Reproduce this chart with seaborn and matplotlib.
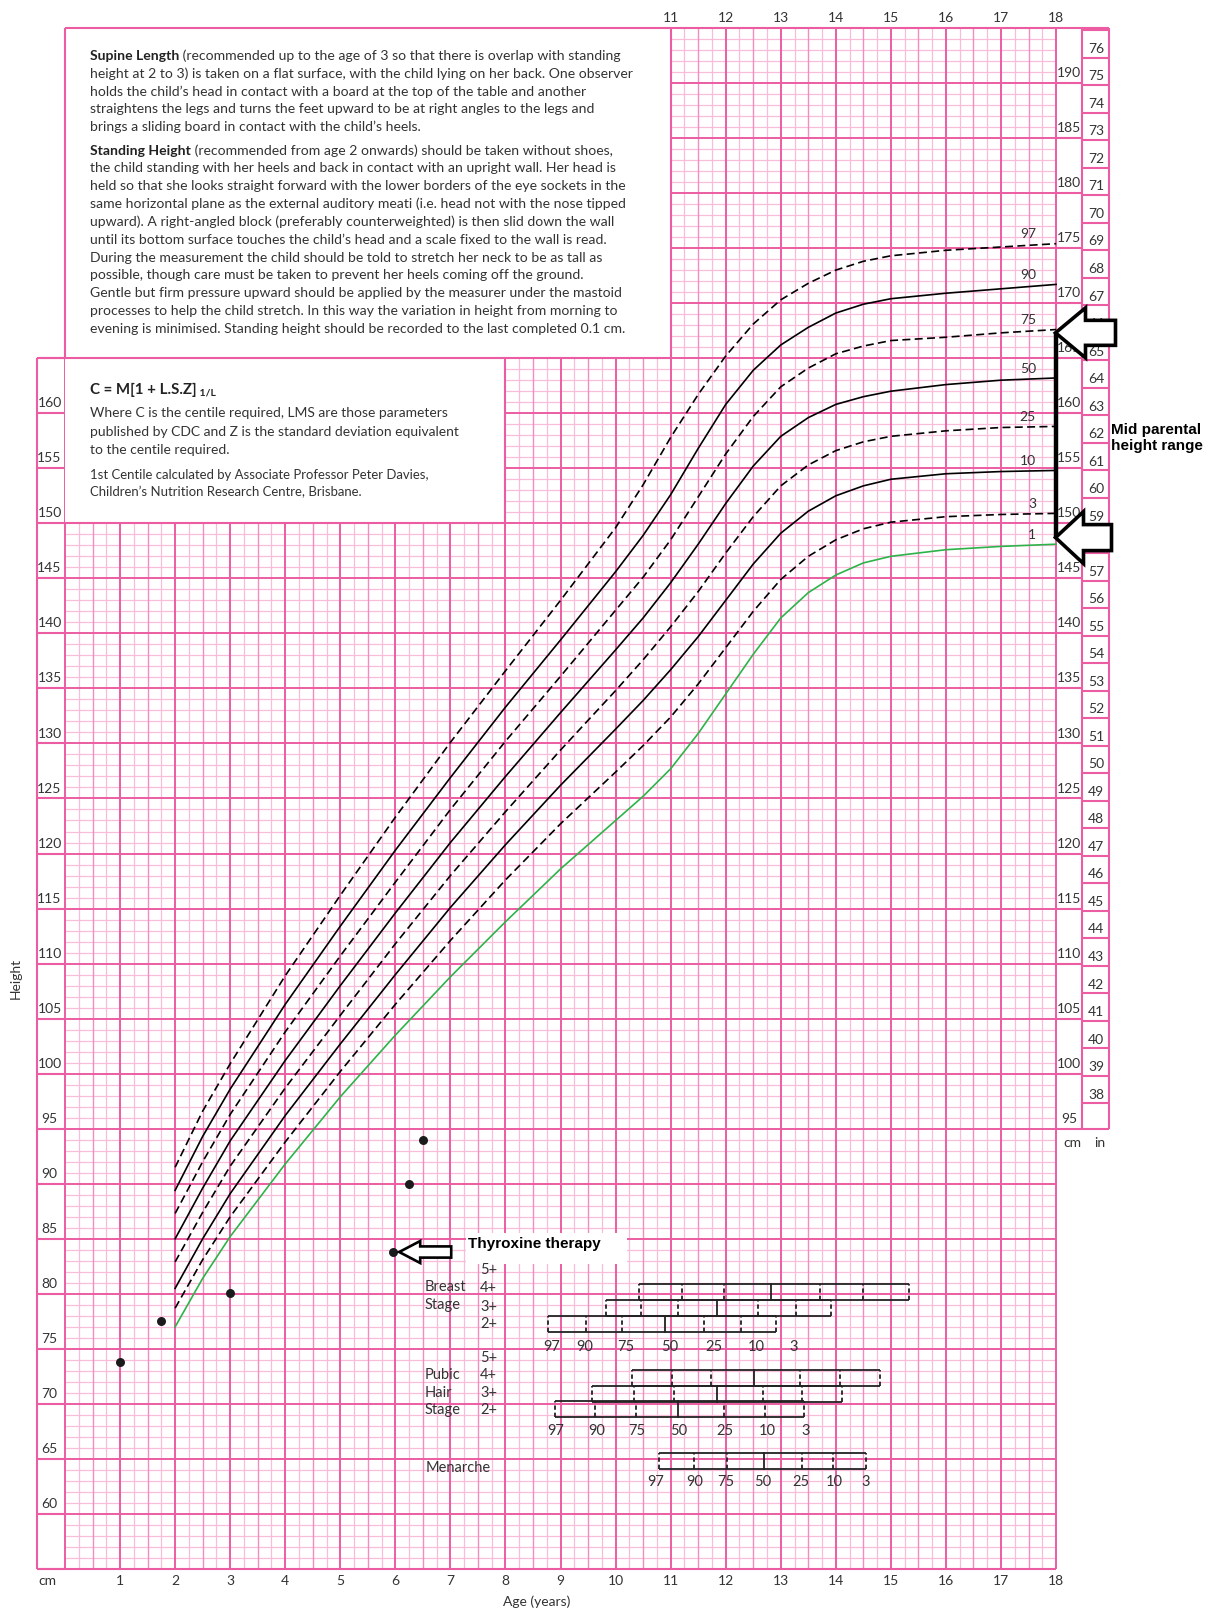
import numpy as np
import pandas as pd
import seaborn as sns
import matplotlib.pyplot as plt
from matplotlib.patches import Polygon, Rectangle

# chart paper scale: pixels per year / per cm, and where age 0 and 60 cm sit
PX_YR = 55.06
PX_CM = 11.008
X0_PX, Y60_PX = 65, 1514


def px_x(px):
    return (px - X0_PX) / PX_YR


def px_y(py):
    return 60 + (Y60_PX - py) / PX_CM


# centile curves (girls stature)
ages = [2, 2.5, 3, 4, 5, 6, 7, 8, 9, 10, 10.5, 11, 11.5, 12, 12.5, 13, 13.5, 14, 14.5, 15, 16, 17, 18]
c97 = [91.5, 96.6, 100.9, 108.9, 116.2, 123.3, 130.1, 136.6, 143.0, 149.6, 153.5, 157.8, 161.7, 165.2, 168.1, 170.3, 171.8, 173.0, 173.8, 174.3, 174.8, 175.1, 175.4]
c90 = [89.4, 94.3, 98.6, 106.3, 113.4, 120.3, 126.9, 133.3, 139.4, 145.6, 148.9, 152.6, 156.8, 160.8, 163.9, 166.2, 167.8, 169.1, 169.9, 170.4, 170.9, 171.3, 171.7]
c75 = [87.3, 92.0, 96.3, 103.8, 110.7, 117.4, 124.0, 130.2, 136.1, 142.1, 145.1, 148.5, 152.4, 156.3, 159.7, 162.4, 164.1, 165.4, 166.1, 166.6, 166.9, 167.3, 167.6]
c50 = [85.0, 89.6, 93.9, 101.2, 108.0, 114.6, 121.0, 127.0, 132.8, 138.5, 141.4, 144.6, 148.1, 151.8, 155.2, 157.9, 159.6, 160.8, 161.5, 162.0, 162.6, 163.0, 163.2]
c25 = [82.9, 87.4, 91.6, 98.7, 105.3, 111.8, 118.0, 123.8, 129.4, 134.8, 137.6, 140.6, 143.8, 147.3, 150.6, 153.4, 155.3, 156.6, 157.4, 157.9, 158.4, 158.7, 158.8]
c10 = [80.5, 85.0, 89.1, 96.2, 102.7, 109.0, 115.1, 120.8, 126.2, 131.3, 133.9, 136.7, 139.7, 143.0, 146.3, 149.1, 151.1, 152.5, 153.4, 154.0, 154.5, 154.7, 154.8]
c3 = [78.7, 83.1, 87.0, 93.8, 100.2, 106.3, 112.1, 117.6, 122.7, 127.4, 129.8, 132.4, 135.4, 138.7, 142.0, 144.9, 147.0, 148.5, 149.5, 150.1, 150.6, 150.8, 150.9]
c1 = [77.0, 81.4, 85.2, 91.8, 97.9, 103.5, 108.8, 113.8, 118.6, 123.0, 125.2, 127.7, 130.9, 134.5, 138.1, 141.4, 143.7, 145.3, 146.4, 147.0, 147.6, 147.9, 148.1]
centiles = ['97', '90', '75', '50', '25', '10', '3', '1']

# patient measurements
pt_age = [1.0, 1.75, 3.0, 5.95, 6.25, 6.5]
pt_height = [73.8, 77.5, 80.1, 83.8, 90.0, 94.0]
thyroxine_idx = 3
mid_parental = [148.7, 167.3]

# puberty staging: ages at 97, 90, 75, 50, 25, 10, 3 percentiles
stage_pct = ['97', '90', '75', '50', '25', '10', '3']
stage_rows = ['5+', '4+', '3+', '2+']
breast_2 = [8.77, 9.46, 10.12, 10.90, 11.61, 12.27, 12.91]
breast_3 = [9.82, 10.46, 11.13, 11.85, 12.58, 13.27, 13.91]
breast_4 = [10.43, 11.21, 11.97, 12.83, 13.71, 14.50, 15.33]
pubic_2 = [8.90, 9.63, 10.37, 11.13, 11.97, 12.71, 13.42]
pubic_3 = [9.57, 10.33, 11.06, 11.85, 12.67, 13.39, 14.11]
pubic_4 = [10.30, 11.02, 11.73, 12.52, 13.35, 14.08, 14.80]
menarche = [10.78, 11.43, 12.02, 12.69, 13.38, 13.95, 14.54]

# axis labels
left_cm = list(range(60, 161, 5))
right_cm = list(range(95, 191, 5))
inch_labels = list(range(38, 77))
top_ages = list(range(11, 19))
bottom_ages = list(range(1, 19))

para1 = [
    ("Supine Length", " (recommended up to the age of 3 so that there is overlap with standing"),
    "height at 2 to 3) is taken on a flat surface, with the child lying on her back. One observer",
    "holds the child\u2019s head in contact with a board at the top of the table and another",
    "straightens the legs and turns the feet upward to be at right angles to the legs and",
    "brings a sliding board in contact with the child\u2019s heels.",
]
para2 = [
    ("Standing Height", " (recommended from age 2 onwards) should be taken without shoes,"),
    "the child standing with her heels and back in contact with an upright wall. Her head is",
    "held so that she looks straight forward with the lower borders of the eye sockets in the",
    "same horizontal plane as the external auditory meati (i.e. head not with the nose tipped",
    "upward). A right-angled block (preferably counterweighted) is then slid down the wall",
    "until its bottom surface touches the child\u2019s head and a scale fixed to the wall is read.",
    "During the measurement the child should be told to stretch her neck to be as tall as",
    "possible, though care must be taken to prevent her heels coming off the ground.",
    "Gentle but firm pressure upward should be applied by the measurer under the mastoid",
    "processes to help the child stretch. In this way the variation in height from morning to",
    "evening is minimised. Standing height should be recorded to the last completed 0.1 cm.",
]
formula_lines = [
    "Where C is the centile required, LMS are those parameters",
    "published by CDC and Z is the standard deviation equivalent",
    "to the centile required.",
]
credit_lines = [
    "1st Centile calculated by Associate Professor Peter Davies,",
    "Children\u2019s Nutrition Research Centre, Brisbane.",
]

plt.rcParams['font.family'] = ['Lato', 'DejaVu Sans']
DARK = '#EC5CA2'
MID = '#F28DBF'
LIGHT = '#F8BDD9'
TXT = '#333333'

fig = plt.figure(figsize=(12.13, 16.11), dpi=100)
ax = fig.add_axes([0, 0, 1, 1])
ax.axis('off')
renderer = fig.canvas.get_renderer()


def fit_size(text, target_px, weight='normal', base=10):
    t = ax.text(0, 0, text, fontsize=base, fontweight=weight)
    w = t.get_window_extent(renderer=renderer).width
    t.remove()
    return base * target_px / w


# ---- grid paper ----
for a in np.arange(0, 18.001, 0.25):
    if a % 1 == 0:
        col, lw, z = DARK, 1.4, 1.3
    elif a % 0.5 == 0:
        col, lw, z = MID, 1.0, 1.2
    else:
        col, lw, z = LIGHT, 0.9, 1.1
    ax.vlines(a, 55, 195, color=col, lw=lw, zorder=z)
for c in range(55, 196):
    if c % 5 == 0:
        ax.hlines(c, 0, 18, color=DARK, lw=1.4, zorder=1.3)
    else:
        ax.hlines(c, 0, 18, color=LIGHT, lw=0.9, zorder=1.1)

# white text boxes
ax.add_patch(Rectangle((0, 165), 11, 30, fc='white', ec='none', zorder=2))
ax.add_patch(Rectangle((0, 150), 8, 15, fc='white', ec='none', zorder=2))

bk = dict(color=DARK, lw=1.5, zorder=3, solid_capstyle='butt')
ax.plot([0, 0], [165, 195], **bk)
ax.plot([0, 18.96], [195, 195], **bk)
ax.plot([-0.5, 11], [165, 165], **bk)
ax.plot([11, 11], [165, 195], **bk)
ax.plot([0, 8], [150, 150], **bk)
ax.plot([8, 8], [150, 165], **bk)
ax.plot([-0.5, -0.5], [55, 165], **bk)
ax.plot([-0.5, 18], [55, 55], **bk)
ax.hlines(list(range(55, 166, 5)), -0.5, 0, color=DARK, lw=1.5, zorder=3)

# right hand cm and inch columns
cm_right, in_right = px_x(1082), px_x(1109)
ax.plot([cm_right, cm_right], [95, 195], **bk)
ax.plot([in_right, in_right], [95, 195], **bk)
ax.plot([18, in_right], [95, 95], **bk)
ax.hlines(list(range(100, 195, 5)), 18, cm_right, color=DARK, lw=1.5, zorder=3)
ax.hlines([97.3 + k * 2.5 for k in range(len(inch_labels) + 1)], cm_right, in_right,
          color=DARK, lw=1.5, zorder=3)

# ---- axis labels ----
lab = dict(fontsize=10, color=TXT, ha='center', va='center', zorder=4)
for c in left_cm:
    ax.text(px_x(49.5), c + 0.9, str(c), **lab)
for c in right_cm:
    ax.text(px_x(1069), c + 0.9, str(c), **lab)
for k, n in enumerate(inch_labels):
    ax.text(px_x(1096), 98.1 + k * 2.5, str(n), **lab)
for a in top_ages:
    ax.text(a, px_y(17.5), str(a), **lab)
for a in bottom_ages:
    ax.text(a, px_y(1581), str(a), **lab)
ax.text(px_x(47), px_y(1581), 'cm', **lab)
ax.text(px_x(536.5), px_y(1602), 'Age (years)', **lab)
ax.text(px_x(1072), px_y(1143), 'cm', **lab)
ax.text(px_x(1100), px_y(1143), 'in', **lab)
ax.text(px_x(15.5), px_y(978.5), 'Height', rotation=90, **lab)

# ---- explanatory text ----
fs_p = fit_size(para1[1], 540)
tx = px_x(90)


def write_par(lines, y0_px):
    for i, line in enumerate(lines):
        y = px_y(y0_px + i * 17.8)
        if isinstance(line, tuple):
            t = ax.text(tx, y, line[0], fontsize=fs_p, fontweight='bold', color='#222222',
                        va='center', ha='left', zorder=4)
            ax.annotate(line[1], xy=(1, 0), xycoords=t, va='bottom', ha='left',
                        fontsize=fs_p, color=TXT, zorder=4)
        else:
            ax.text(tx, y, line, fontsize=fs_p, color=TXT, va='center', ha='left', zorder=4)


write_par(para1, 56)
write_par(para2, 150.7)

fs_f = fit_size(formula_lines[1], 369)
t = ax.text(tx, px_y(390), 'C = M[1 + L.S.Z]', fontsize=fs_f * 1.08, fontweight='bold',
            color='#222222', va='center', ha='left', zorder=4)
ax.annotate(' 1/L', xy=(1, 0), xycoords=t, va='bottom', ha='left', fontsize=fs_f * 0.75,
            fontweight='bold', color='#222222', zorder=4)
for i, line in enumerate(formula_lines):
    ax.text(tx, px_y(413.3 + i * 18.3), line, fontsize=fs_f, color=TXT, va='center', zorder=4)
fs_c = fit_size(credit_lines[0], 338)
for i, line in enumerate(credit_lines):
    ax.text(tx, px_y(475 + i * 17.5), line, fontsize=fs_c, color=TXT, va='center', zorder=4)

# ---- centile curves ----
curves = pd.DataFrame({
    'age': ages * len(centiles),
    'height': c97 + c90 + c75 + c50 + c25 + c10 + c3 + c1,
    'centile': np.repeat(centiles, len(ages)),
})
palette = {c: 'black' for c in centiles}
palette['1'] = '#2DB34A'
dash = (4.8, 2.6)
dashes = {'97': dash, '90': '', '75': dash, '50': '', '25': dash, '10': '', '3': dash, '1': ''}
sns.lineplot(data=curves, x='age', y='height', hue='centile', style='centile',
             hue_order=centiles, style_order=centiles, palette=palette, dashes=dashes,
             estimator=None, linewidth=1.2, legend=False, ax=ax, zorder=5)

ends = curves[curves['age'] == 18]
for _, r in ends.iterrows():
    ax.text(px_x(1036), r['height'] + 0.85, r['centile'], fontsize=10, color=TXT,
            ha='right', va='center', zorder=4)

# ---- patient points ----
sns.scatterplot(x=pt_age, y=pt_height, color='#1b1b1b', s=42, linewidth=0,
                legend=False, ax=ax, zorder=6)


def block_arrow(tip_x, tip_y, head_len, head_half, shaft_half, total, lw):
    pts = [(0, 0), (head_len, head_half), (head_len, shaft_half), (total, shaft_half),
           (total, -shaft_half), (head_len, -shaft_half), (head_len, -head_half)]
    xy = [(tip_x + dx / PX_YR, tip_y + dy / PX_CM) for dx, dy in pts]
    ax.add_patch(Polygon(xy, closed=True, fc='white', ec='black', lw=lw,
                         joinstyle='miter', zorder=8))


# mid parental height range
ax.plot([px_x(1055.5)] * 2, mid_parental, color='black', lw=3.2, zorder=7,
        solid_capstyle='butt')
block_arrow(px_x(1055.5), mid_parental[1], 30, 25, 12.5, 60, 2.6)
block_arrow(px_x(1055.5), mid_parental[0], 28, 26, 13, 56, 2.6)
ax.text(px_x(1111), px_y(438), 'Mid parental\nheight range', fontsize=11,
        fontweight='bold', family='Liberation Sans', color='black', ha='left',
        va='center', linespacing=1.15, zorder=8)

# thyroxine therapy
ax.add_patch(Rectangle((px_x(466), px_y(1264)), (627 - 466) / PX_YR, 31 / PX_CM,
                       fc='white', ec='none', zorder=3.5))
ax.text(px_x(468), px_y(1244), 'Thyroxine therapy', fontsize=11, fontweight='bold',
        family='Liberation Sans', color='black', ha='left', va='center', zorder=8)
block_arrow(pt_age[thyroxine_idx] + 6.6 / PX_YR, pt_height[thyroxine_idx], 21, 11, 5.6, 52, 1.9)


# ---- puberty staging bars ----
def stage_bar(row, bottom, height):
    ax.hlines([bottom, bottom + height], row[0], row[-1], color='#222222', lw=1.3, zorder=5)
    for p, a in zip(stage_pct, row):
        ls = '-' if p == '50' else (0, (2.4, 1.6))
        ax.plot([a, a], [bottom, bottom + height], color='#222222', lw=1.3, ls=ls, zorder=5)


for row, b in zip([breast_2, breast_3, breast_4], [76.56, 77.99, 79.44]):
    stage_bar(row, b, 1.43)
for row, b in zip([pubic_2, pubic_3, pubic_4], [68.78, 70.21, 71.66]):
    stage_bar(row, b, 1.45)
stage_bar(menarche, 64.06, 1.44)

sl = dict(fontsize=10.5, color=TXT, ha='left', va='center', zorder=4)
for s, y in zip(stage_rows, [82.17, 80.5, 78.83, 77.26]):
    ax.text(px_x(480), y, s, **sl)
for s, y in zip(stage_rows, [74.14, 72.63, 71.0, 69.45]):
    ax.text(px_x(480), y, s, **sl)
ax.text(px_x(425), 80.6, 'Breast', **sl)
ax.text(px_x(425), 79.0, 'Stage', **sl)
ax.text(px_x(425), 72.63, 'Pubic', **sl)
ax.text(px_x(425), 71.0, 'Hair', **sl)
ax.text(px_x(425), 69.45, 'Stage', **sl)
ax.text(px_x(426), 64.15, 'Menarche', **sl)

pl = dict(fontsize=10.5, color=TXT, ha='center', va='center', zorder=4)
for p, a in zip(stage_pct, [8.84, 9.43, 10.18, 10.99, 11.79, 12.55, 13.23]):
    ax.text(a, 75.2, p, **pl)
for p, a in zip(stage_pct, [8.92, 9.66, 10.39, 11.15, 11.99, 12.76, 13.45]):
    ax.text(a, 67.57, p, **pl)
for p, a in zip(stage_pct, [10.72, 11.44, 12.01, 12.68, 13.37, 13.97, 14.55]):
    ax.text(a, 62.88, p, **pl)

ax.set_xlim(px_x(0), px_x(1213))
ax.set_ylim(px_y(1611), px_y(0))
fig.savefig('out.png', dpi=100, facecolor='white')
